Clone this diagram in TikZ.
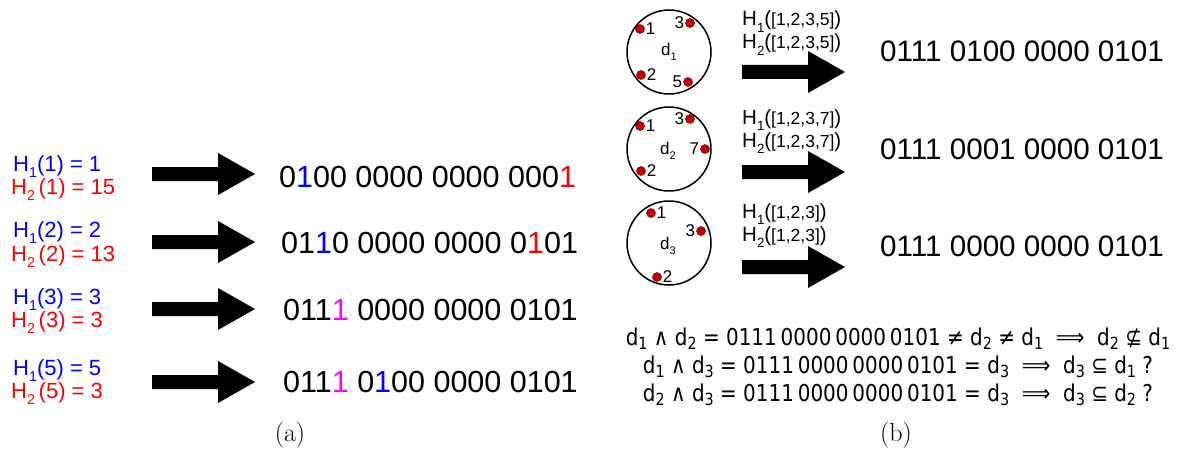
\documentclass[tikz,border=0pt]{standalone}
\usepackage{fontspec}
\usepackage{graphicx}
\newfontfamily\arial{Liberation Sans}
\newfontfamily\eqfont{DejaVu Sans}[FakeStretch=0.86]
\usetikzlibrary{positioning}

\definecolor{hblue}{RGB}{0,0,255}
\definecolor{hred}{RGB}{255,0,0}
\definecolor{hmag}{RGB}{255,0,255}
\definecolor{dotred}{RGB}{200,0,0}

% lowered, shrunk index
\newcommand{\ix}[1]{\raisebox{-0.3em}{\scalebox{0.65}{#1}}}
% index used in the set relations
\newcommand{\ex}[1]{\raisebox{-0.18em}{\scalebox{0.72}{#1}}}
% small list argument of a hash function
\newcommand{\lst}[1]{{\fontsize{17.5}{18}\selectfont #1}}

\begin{document}
\begin{tikzpicture}[x=1pt,y=-1pt,
  hlab/.style={font=\arial\fontsize{22}{24}\selectfont, anchor=base west, inner sep=0},
  hsmall/.style={font=\arial\fontsize{20.5}{22}\selectfont, anchor=base west, inner sep=0},
  bits/.style={font=\arial\fontsize{30.5}{32}\selectfont, anchor=base west, inner sep=0},
  bitsb/.style={font=\arial\fontsize{29.6}{32}\selectfont, anchor=base west, inner sep=0},
  doc/.style={circle, draw, line width=1.5pt, minimum size=84pt, inner sep=0},
  elem/.style={circle, fill=dotred, draw=black!60!red, line width=0.5pt, minimum size=9pt, inner sep=0},
  num/.style={font=\arial\fontsize{17}{17}\selectfont, inner sep=0},
  eqn/.style={font=\eqfont\fontsize{23.2}{25}\selectfont, anchor=base, inner sep=0},
  captext/.style={font=\fontsize{26}{28}\selectfont, inner sep=0},
  bigarrow/.pic={\fill (0,-7) -- (66,-7) -- (66,-21) -- (103,0) -- (66,21) -- (66,7) -- (0,7) -- cycle;}
]
\useasboundingbox (0,0) rectangle (1181,452);

% ---------- (a): single elements ----------
\node[hlab, text=hblue] (a1h1) at (13,171) {H\ix{1}(1) = 1};
\node[hlab, text=hred]  (a1h2) at (11,194) {H\ix{2}\,(1) = 15};
\node[hlab, text=hblue] (a2h1) at (13,237) {H\ix{1}(2) = 2};
\node[hlab, text=hred]  (a2h2) at (11,261) {H\ix{2}\,(2) = 13};
\node[hlab, text=hblue] (a3h1) at (13,304) {H\ix{1}(3) = 3};
\node[hlab, text=hred]  (a3h2) at (11,327) {H\ix{2}\,(3) = 3};
\node[hlab, text=hblue] (a4h1) at (13,375) {H\ix{1}(5) = 5};
\node[hlab, text=hred]  (a4h2) at (11,398) {H\ix{2}\,(5) = 3};

\pic at (152,174) {bigarrow};
\pic at (152,242) {bigarrow};
\pic at (152,309) {bigarrow};
\pic at (152,382) {bigarrow};

\node[bits] (a1b) at (279,187) {0\textcolor{hblue}{1}00 0000 0000 000\textcolor{hred}{1}};
\node[bits] (a2b) at (281,253) {01\textcolor{hblue}{1}0 0000 0000 0\textcolor{hred}{1}01};
\node[bits] (a3b) at (283,320) {011\textcolor{hmag}{1} 0000 0000 0101};
\node[bits] (a4b) at (283,392) {011\textcolor{hmag}{1} 0\textcolor{hblue}{1}00 0000 0101};

\node[captext] (capa) at (290,435) {(a)};

% ---------- (b): sets of elements ----------
\node[doc] (d1) at (669,52) {};
\node[num] at (669,52) {\fontsize{17}{17}\selectfont d\ix{1}};
\node[elem] (d1e1) at (640,29) {};  \node[num, right=1pt of d1e1] {1};
\node[elem] (d1e3) at (690,23) {};  \node[num, left=1pt of d1e3] {3};
\node[elem] (d1e2) at (641,75) {};  \node[num, right=1pt of d1e2] {2};
\node[elem] (d1e5) at (688,82) {};  \node[num, left=1pt of d1e5] {5};

\node[doc] (d2) at (669,149) {};
\node[num] at (668,151) {\fontsize{17}{17}\selectfont d\ix{2}};
\node[elem] (d2e1) at (640,126) {}; \node[num, right=1pt of d2e1] {1};
\node[elem] (d2e3) at (690,119) {}; \node[num, left=1pt of d2e3] {3};
\node[elem] (d2e7) at (705,149) {}; \node[num, left=1pt of d2e7] {7};
\node[elem] (d2e2) at (641,171) {}; \node[num, right=1pt of d2e2] {2};

\node[doc] (d3) at (669,243) {};
\node[num] at (668,246) {\fontsize{17}{17}\selectfont d\ix{3}};
\node[elem] (d3e1) at (651,213) {}; \node[num, right=1pt of d3e1] {1};
\node[elem] (d3e3) at (701,231) {}; \node[num, left=1pt of d3e3] {3};
\node[elem] (d3e2) at (657,277) {}; \node[num, right=1pt of d3e2] {2};

\node[hsmall] (b1h1) at (742,26)  {H\ix{1}(\lst{[1,2,3,5]})};
\node[hsmall] (b1h2) at (742,49)  {H\ix{2}(\lst{[1,2,3,5]})};
\node[hsmall] (b2h1) at (742,124) {H\ix{1}(\lst{[1,2,3,7]})};
\node[hsmall] (b2h2) at (742,147) {H\ix{2}(\lst{[1,2,3,7]})};
\node[hsmall] (b3h1) at (742,218) {H\ix{1}(\lst{[1,2,3]})};
\node[hsmall] (b3h2) at (742,241) {H\ix{2}(\lst{[1,2,3]})};

\pic at (742,72)  {bigarrow};
\pic at (742,172) {bigarrow};
\pic at (742,267) {bigarrow};

\node[bitsb] (b1b) at (880,62)  {0111 0100 0000 0101};
\node[bitsb] (b2b) at (880,159) {0111 0001 0000 0101};
\node[bitsb] (b3b) at (880,256) {0111 0000 0000 0101};

\node[eqn] (eq1) at (898,345) {d\ex{1} ∧ d\ex{2} = 0111\,0000\,0000\,0101 ≠ d\ex{2} ≠ d\ex{1} \ ⟹ \ d\ex{2} ⊈ d\ex{1}};
\node[eqn] (eq2) at (898,373) {d\ex{1} ∧ d\ex{3} = 0111\,0000\,0000\,0101 = d\ex{3} \ ⟹ \ d\ex{3} ⊆ d\ex{1} ?};
\node[eqn] (eq3) at (898,401) {d\ex{2} ∧ d\ex{3} = 0111\,0000\,0000\,0101 = d\ex{3} \ ⟹ \ d\ex{3} ⊆ d\ex{2} ?};

\node[captext] (capb) at (896,435) {(b)};
\end{tikzpicture}
\end{document}
